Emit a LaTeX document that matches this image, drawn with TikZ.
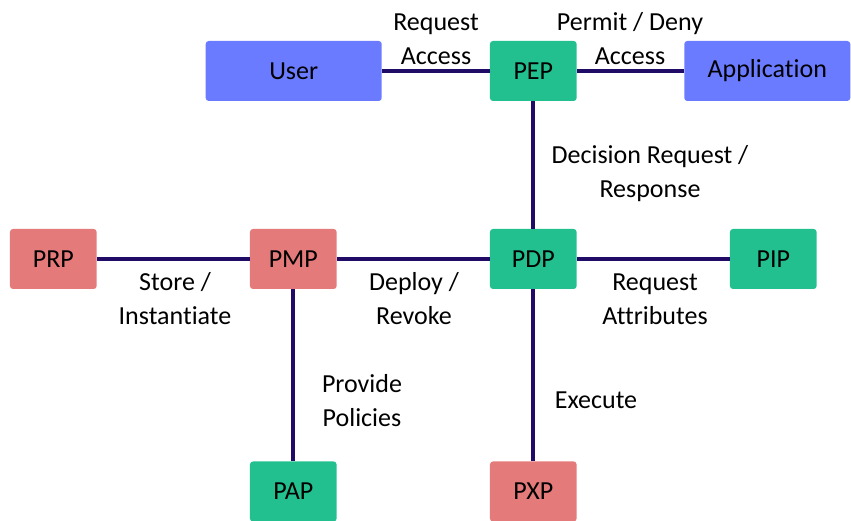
\documentclass[tikz,border=0pt]{standalone}
\usepackage{fontspec}
\setmainfont{Carlito}[Ligatures=CommonOff]
\usepackage{tikz}
\usetikzlibrary{positioning}
\definecolor{userblue}{RGB}{107,123,255}
\definecolor{ptgreen}{RGB}{34,192,143}
\definecolor{ptred}{RGB}{229,122,122}
\definecolor{linkcol}{RGB}{32,12,102}
\tikzset{
	actor/.style={rectangle, rounded corners=3pt, inner sep=0pt, minimum width=176pt, minimum height=60pt, fill=userblue},
	pgreen/.style={rectangle, rounded corners=3pt, inner sep=0pt, minimum width=86.7pt, minimum height=60pt, fill=ptgreen},
	pred/.style={rectangle, rounded corners=3pt, inner sep=0pt, minimum width=86.7pt, minimum height=60pt, fill=ptred},
	% edge labels
	lbl/.style={align=center, inner sep=0pt},
}

\begin{document}
\begin{tikzpicture}[x=1pt, y=1pt, node distance=240pt, font=\fontsize{26}{34}\selectfont]
		\useasboundingbox (0,0) rectangle (851,521);
		
		\node (pdp) [pgreen] at (533.3,262) {PDP};
		\node (pmp) [pred, left of=pdp] {PMP};
		\node (prp) [pred, left of=pmp] {PRP};
		\node (pip) [pgreen, right of=pdp] {PIP};
		
		\node (pep) [pgreen, above of=pdp, yshift=-52pt] {PEP};
		\node (user) [actor, left of=pep, xshift=0.4pt] {User};
		\node (app) [actor, right of=pep, xshift=-6pt, minimum width=166pt] {Application};
		
		\node (pap) [pgreen, below of=pmp, yshift=7.5pt] {PAP};
		\node (pxp) [pred, below of=pdp, yshift=7.5pt] {PXP};
		
		\node (reqacc) [lbl, left of=pep, xshift=142.7pt, yshift=32pt] {Request\\Access};
		\node (permit) [lbl, right of=pep, xshift=-143.3pt, yshift=32pt] {Permit / Deny\\Access};
		\node (decision) [lbl, above of=pdp, xshift=116.7pt, yshift=-155pt] {Decision Request /\\Response};
		\node (store) [lbl, left of=pmp, xshift=121.7pt, yshift=-40pt] {Store /\\Instantiate};
		\node (deploy) [lbl, left of=pdp, xshift=120.7pt, yshift=-40pt] {Deploy /\\Revoke};
		\node (reqattr) [lbl, right of=pdp, xshift=-118.3pt, yshift=-40pt] {Request\\Attributes};
		\node (provide) [lbl, below of=pmp, xshift=68.7pt, yshift=98.5pt] {Provide\\Policies};
		\node (execute) [lbl, below of=pdp, xshift=62.7pt, yshift=99pt] {Execute};
		
		\begin{scope}[line width=4pt, linkcol]
			\draw (user) -- (pep);
			\draw (pep) -- (app);
			\draw (pep) -- (pdp);
			\draw (prp) -- (pmp);
			\draw (pmp) -- (pdp);
			\draw (pdp) -- (pip);
			\draw (pmp) -- (pap);
			\draw (pdp) -- (pxp);
		\end{scope}
	\end{tikzpicture}
\end{document}
